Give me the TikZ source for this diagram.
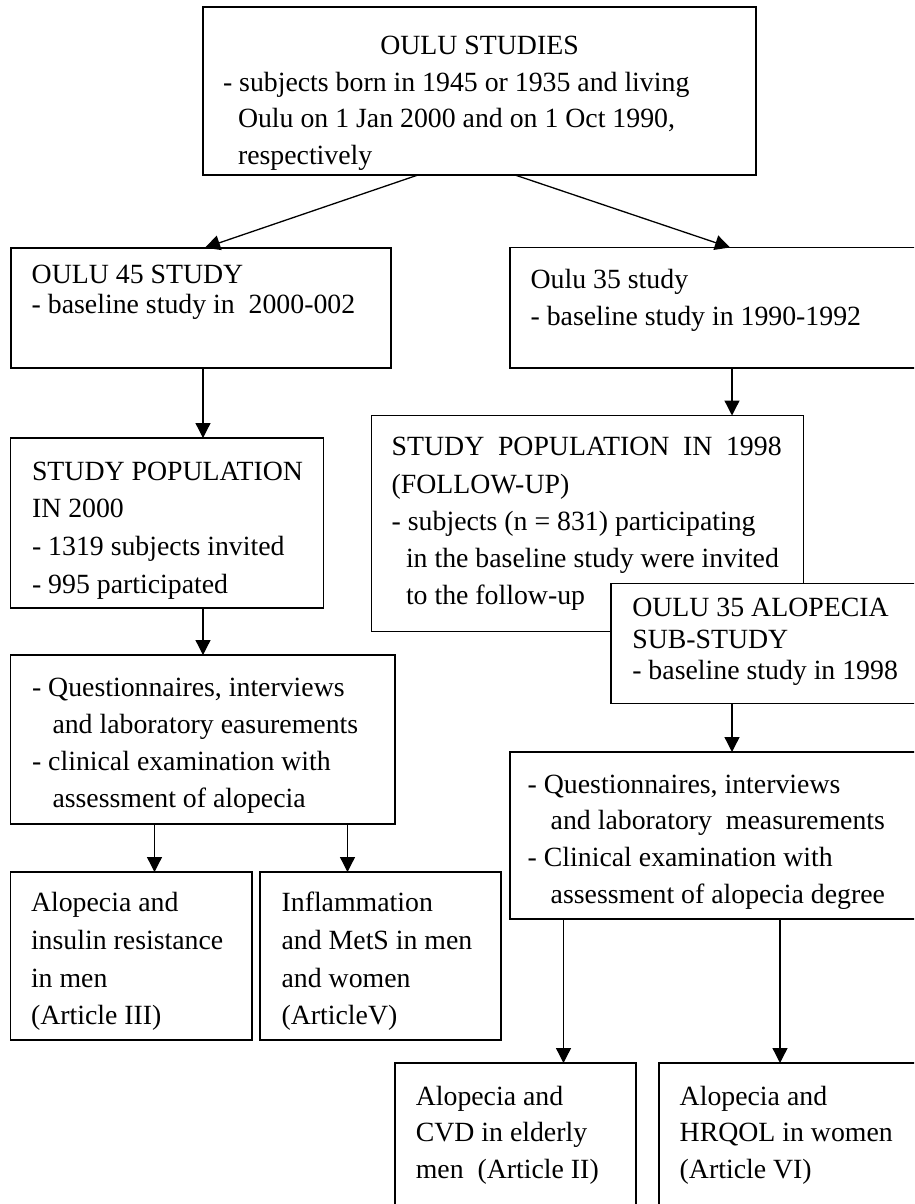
\documentclass[tikz,border=0pt]{standalone}
\usepackage{fontspec}
\setmainfont{Liberation Serif}
\usetikzlibrary{arrows.meta}
\tikzset{
  box/.style={draw, line width=1.8pt, fill=white, rectangle, inner sep=0pt, outer sep=0pt, anchor=north west},
  txt/.style={anchor=base west, align=left, inner sep=0pt, outer sep=0pt, font=\fontsize{27.8}{37}\selectfont},
  arr/.style={line width=1.3pt, -{Triangle[length=15pt,width=15pt]}}
}
\begin{document}
\begin{tikzpicture}[x=1pt,y=-1pt]
\useasboundingbox (0,0) rectangle (914,1204);
\clip (0,0) rectangle (914,1204);
\fill[white] (0,0) rectangle (914,1204);
% boxes
\node[box, minimum width=553pt, minimum height=168pt] (top) at (203,7) {};
\node[box, minimum width=380pt, minimum height=120pt] (o45) at (10.7,247.7) {};
\node[box, minimum width=420pt, minimum height=120.5pt] (o35) at (510,247.5) {};
\node[box, minimum width=313pt, minimum height=170pt] (sp2000) at (10.5,438) {};
\node[box, minimum width=432pt, minimum height=216pt] (sp1998) at (371.5,415.5) {};
\node[box, minimum width=320pt, minimum height=120pt] (alo) at (610.7,583.5) {};
\node[box, minimum width=384.5pt, minimum height=169.3pt] (q45) at (10.5,655) {};
\node[box, minimum width=420pt, minimum height=167pt] (q35) at (510,752) {};
\node[box, minimum width=241.5pt, minimum height=168pt] (a3) at (10.5,872) {};
\node[box, minimum width=241pt, minimum height=168pt] (a5) at (260,872) {};
\node[box, minimum width=241pt, minimum height=160pt] (a2) at (395,1063) {};
\node[box, minimum width=300pt, minimum height=160pt] (a6) at (659,1063) {};
% texts (anchor = baseline of the last line)
\node[txt, anchor=base] (ttop) at (479.5,54.5) {OULU STUDIES};
\node[txt, font=\fontsize{27.8}{36.7}\selectfont] (btop) at (223,164.4) {- subjects born in 1945 or 1935 and living\\\hspace*{15pt}Oulu on 1 Jan 2000 and on 1 Oct 1990,\\\hspace*{15pt}respectively};
\node[txt, font=\fontsize{27.8}{30}\selectfont] (to45) at (31.7,313.3) {OULU 45 STUDY\\- baseline study in\ \ 2000-002};
\node[txt] (to35) at (530.6,325) {Oulu 35 study\\- baseline study in 1990-1992};
\node[txt, font=\fontsize{27.8}{37.7}\selectfont] (tsp2000) at (32,593.1) {STUDY POPULATION\\IN 2000\\- 1319 subjects invited\\- 995 participated};
\node[txt, font=\fontsize{27.8}{37.3}\selectfont] (tsp1998) at (391.7,604.9) {\makebox[390pt][s]{STUDY POPULATION IN 1998}\\(FOLLOW-UP)\\- subjects (n = 831) participating\\\hspace*{14.3pt}in the baseline study were invited\\\hspace*{14.3pt}to the follow-up};
\node[txt, font=\fontsize{27.8}{31.3}\selectfont] (talo) at (632.3,679.3) {OULU 35 ALOPECIA\\SUB-STUDY\\- baseline study in 1998};
\node[txt] (tq45) at (32,807.7) {- Questionnaires, interviews\\\hspace*{20.5pt}and laboratory easurements\\- clinical examination with\\\hspace*{20.5pt}assessment of alopecia};
\node[txt, font=\fontsize{27.8}{36.7}\selectfont] (tq35) at (527.7,903.1) {- Questionnaires, interviews\\\hspace*{23pt}and laboratory\ \ measurements\\- Clinical examination with\\\hspace*{23pt}assessment of alopecia degree};
\node[txt, font=\fontsize{27.8}{37.7}\selectfont] (ta3) at (31,1024.8) {Alopecia and\\insulin resistance\\in men\\(Article III)};
\node[txt, font=\fontsize{27.8}{37.7}\selectfont] (ta5) at (281.6,1024.8) {Inflammation\\and MetS in men\\and women\\(ArticleV)};
\node[txt, font=\fontsize{27.8}{36.7}\selectfont] (ta2) at (415.8,1178.4) {Alopecia and\\CVD in elderly\\men\ \ (Article II)};
\node[txt, font=\fontsize{27.8}{36.7}\selectfont] (ta6) at (679.7,1178.4) {Alopecia and\\HRQOL in women\\(Article VI)};
% connectors
\draw[arr] ([xshift=215pt]top.south west) -- ([xshift=194.3pt]o45.north west);
\draw[arr] ([xshift=312pt]top.south west) -- ([xshift=220pt]o35.north west);
\draw[arr] ([xshift=192.3pt]o45.south west) -- ([xshift=192.5pt]sp2000.north west);
\draw[arr] ([xshift=222pt]o35.south west) -- ([xshift=360.5pt]sp1998.north west);
\draw[arr] ([xshift=192.5pt]sp2000.south west) -- ([xshift=192.5pt]q45.north west);
\draw[arr] ([xshift=121.3pt]alo.south west) -- ([xshift=222pt]q35.north west);
\draw[arr] ([xshift=144pt]q45.south west) -- ([xshift=144pt]a3.north west);
\draw[arr] ([xshift=337pt]q45.south west) -- ([xshift=87.5pt]a5.north west);
\draw[arr] ([xshift=53.5pt]q35.south west) -- ([xshift=168.5pt]a2.north west);
\draw[arr] ([xshift=270pt]q35.south west) -- ([xshift=121pt]a6.north west);
\end{tikzpicture}
\end{document}
